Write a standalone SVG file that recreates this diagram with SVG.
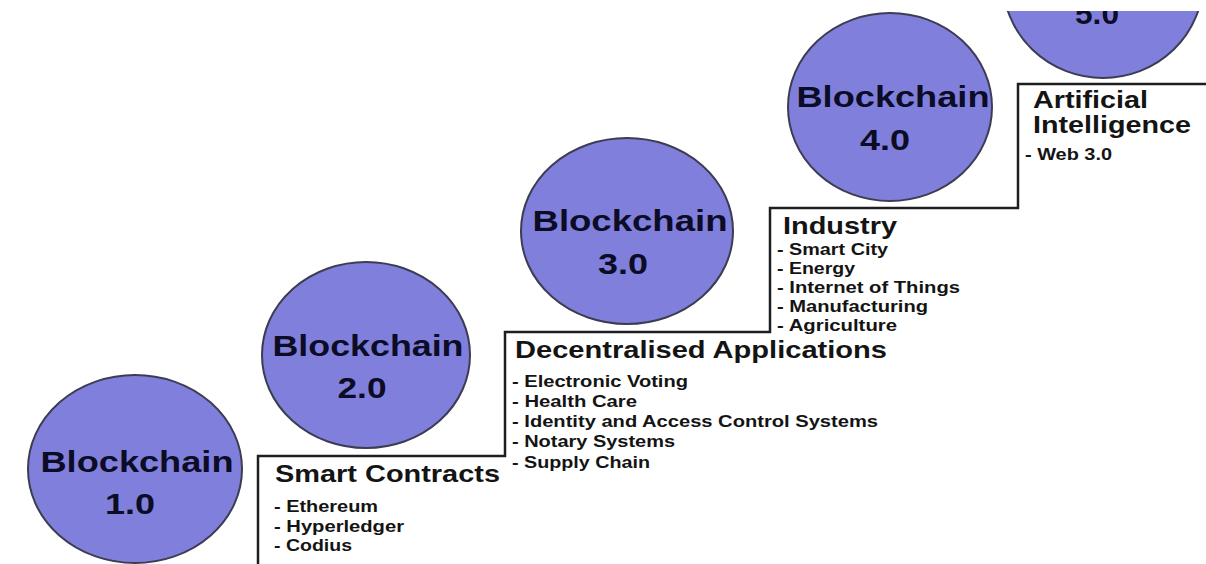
<svg xmlns="http://www.w3.org/2000/svg" width="1206" height="564" viewBox="0 0 1206 564">
<style>
.c{fill:#8080dc;stroke:#3c3c52;stroke-width:2}
.ct{font-family:"Liberation Sans",Arial,sans-serif;font-weight:bold;font-size:30px;fill:#0c0c26;text-anchor:middle}
.h{font-family:"Liberation Sans",Arial,sans-serif;font-weight:bold;font-size:24px;fill:#141414}
.l{font-family:"Liberation Sans",Arial,sans-serif;font-weight:bold;font-size:16px;fill:#141414}
.step{fill:none;stroke:#1e1e1e;stroke-width:2.5}
</style>
<defs>
<clipPath id="top"><rect x="0" y="11" width="1206" height="553"/></clipPath>
</defs>
<rect width="1206" height="564" fill="#ffffff"/>
<g id="connectors">
<path class="step" d="M258,566 V456 H505 V332 H770 V208 H1018 V84 H1208"/>
</g>
<g id="bc1">
<ellipse class="c" cx="135" cy="469" rx="107" ry="94"/>
<text class="ct" x="137" y="472" textLength="193" lengthAdjust="spacingAndGlyphs">Blockchain</text>
<text class="ct" x="130" y="514" textLength="50" lengthAdjust="spacingAndGlyphs">1.0</text>
</g>
<g id="bc2">
<ellipse class="c" cx="366" cy="355" rx="104" ry="93"/>
<text class="ct" x="368" y="356" textLength="191" lengthAdjust="spacingAndGlyphs">Blockchain</text>
<text class="ct" x="362" y="398" textLength="49" lengthAdjust="spacingAndGlyphs">2.0</text>
</g>
<g id="bc3">
<ellipse class="c" cx="627" cy="231" rx="106" ry="93"/>
<text class="ct" x="630" y="231" textLength="195" lengthAdjust="spacingAndGlyphs">Blockchain</text>
<text class="ct" x="623" y="274" textLength="50" lengthAdjust="spacingAndGlyphs">3.0</text>
</g>
<g id="bc4">
<ellipse class="c" cx="890" cy="107" rx="102" ry="94"/>
<text class="ct" x="893" y="107" textLength="193" lengthAdjust="spacingAndGlyphs">Blockchain</text>
<text class="ct" x="885" y="150" textLength="50" lengthAdjust="spacingAndGlyphs">4.0</text>
</g>
<g id="bc5" clip-path="url(#top)">
<ellipse class="c" cx="1103" cy="-19" rx="100" ry="97"/>
<text class="ct" x="1097" y="24" textLength="44" lengthAdjust="spacingAndGlyphs">5.0</text>
</g>
<g id="smart-contracts">
<text class="h" x="275" y="482" textLength="225" lengthAdjust="spacingAndGlyphs">Smart Contracts</text>
<text class="l" x="274" y="512" textLength="104" lengthAdjust="spacingAndGlyphs">- Ethereum</text>
<text class="l" x="274" y="532" textLength="130" lengthAdjust="spacingAndGlyphs">- Hyperledger</text>
<text class="l" x="274" y="551" textLength="78" lengthAdjust="spacingAndGlyphs">- Codius</text>
</g>
<g id="dapps">
<text class="h" x="515" y="358" textLength="372" lengthAdjust="spacingAndGlyphs">Decentralised Applications</text>
<text class="l" x="512" y="387" textLength="176" lengthAdjust="spacingAndGlyphs">- Electronic Voting</text>
<text class="l" x="512" y="407" textLength="125" lengthAdjust="spacingAndGlyphs">- Health Care</text>
<text class="l" x="512" y="427" textLength="366" lengthAdjust="spacingAndGlyphs">- Identity and Access Control Systems</text>
<text class="l" x="512" y="447" textLength="163" lengthAdjust="spacingAndGlyphs">- Notary Systems</text>
<text class="l" x="512" y="468" textLength="138" lengthAdjust="spacingAndGlyphs">- Supply Chain</text>
</g>
<g id="industry">
<text class="h" x="783" y="234" textLength="114" lengthAdjust="spacingAndGlyphs">Industry</text>
<text class="l" x="777" y="255" textLength="111" lengthAdjust="spacingAndGlyphs">- Smart City</text>
<text class="l" x="777" y="274" textLength="78" lengthAdjust="spacingAndGlyphs">- Energy</text>
<text class="l" x="777" y="293" textLength="183" lengthAdjust="spacingAndGlyphs">- Internet of Things</text>
<text class="l" x="777" y="312" textLength="151" lengthAdjust="spacingAndGlyphs">- Manufacturing</text>
<text class="l" x="777" y="331" textLength="120" lengthAdjust="spacingAndGlyphs">- Agriculture</text>
</g>
<g id="ai">
<text class="h" x="1033" y="108" textLength="115" lengthAdjust="spacingAndGlyphs">Artificial</text>
<text class="h" x="1033" y="133" textLength="158" lengthAdjust="spacingAndGlyphs">Intelligence</text>
<text class="l" x="1025" y="160" textLength="87" lengthAdjust="spacingAndGlyphs">- Web 3.0</text>
</g>
</svg>
